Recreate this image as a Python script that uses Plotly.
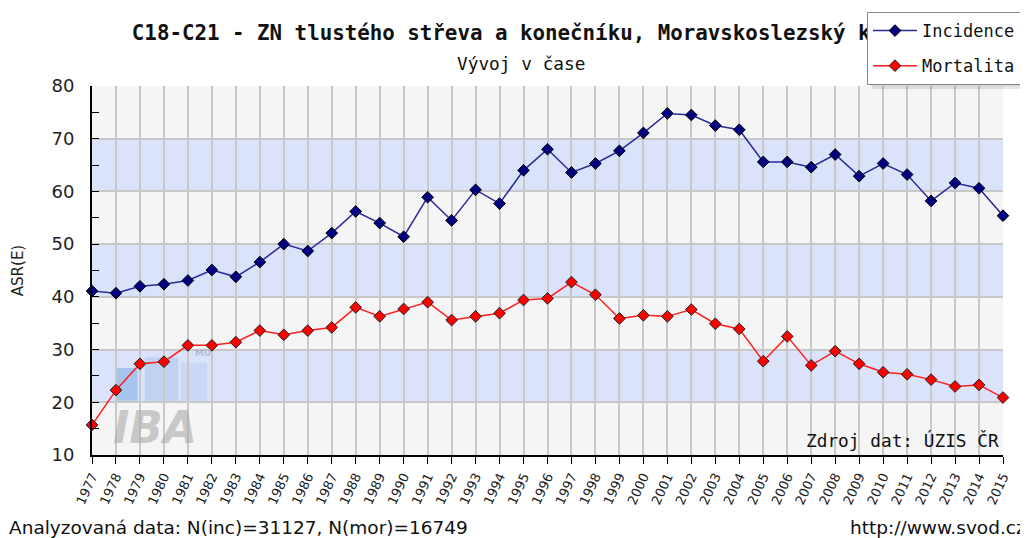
import plotly.graph_objects as go

years = list(range(1977, 2016))
incidence = [41.1, 40.7, 42.0, 42.4, 43.1, 45.1, 43.8, 46.6, 50.0, 48.7,
             52.1, 56.2, 54.0, 51.4, 58.9, 54.5, 60.3, 57.7, 64.0, 68.0,
             63.6, 65.3, 67.7, 71.1, 74.8, 74.5, 72.5, 71.7, 65.6, 65.6,
             64.6, 67.0, 62.9, 65.3, 63.2, 58.2, 61.6, 60.6, 55.4]
mortalita = [15.7, 22.3, 27.3, 27.7, 30.8, 30.8, 31.4, 33.6, 32.8, 33.6,
             34.2, 38.0, 36.3, 37.7, 39.0, 35.6, 36.3, 36.9, 39.4, 39.7,
             42.8, 40.4, 35.9, 36.5, 36.3, 37.6, 34.9, 33.9, 27.8, 32.5,
             27.0, 29.7, 27.3, 25.7, 25.3, 24.3, 23.0, 23.3, 20.9]
y_ticks = [10, 20, 30, 40, 50, 60, 70, 80]
title = "C18-C21 - ZN tlustého střeva a konečníku, Moravskoslezský kraj"
subtitle = "Vývoj v čase"

mono = "DejaVu Sans Mono"
sans = "DejaVu Sans"

# page has an 8px body margin: figure drawn at (8, 8) of the window
OFF = 8
W, H = 1028 - OFF, 538 - OFF
PL, PT, PR, PB = 92, 86, 1003, 455  # plot area in window pixels


def px(sx):
    return (sx - PL) / (PR - PL)


def py(sy):
    return (PB - sy) / (PB - PT)


fig = go.Figure()
fig.add_trace(go.Scatter(
    x=years, y=incidence, name="Incidence", mode="lines+markers",
    legendgroup="inc",
    line=dict(color="#2a2a9a", width=1.5),
    marker=dict(symbol="diamond", size=9, color="#000080",
                line=dict(color="#000000", width=1)),
    cliponaxis=False))
fig.add_trace(go.Scatter(
    x=years, y=mortalita, name="Mortalita", mode="lines+markers",
    legendgroup="mor",
    line=dict(color="#ff2020", width=1.5),
    marker=dict(symbol="diamond", size=9, color="#ff0000",
                line=dict(color="#202020", width=1)),
    cliponaxis=False))

shapes = []
for lo in range(10, 80, 10):
    col = "#dbe3fb" if (lo // 10) % 2 == 0 else "#f5f5f5"
    shapes.append(dict(type="rect", xref="paper", yref="y", x0=0, x1=1,
                       y0=lo, y1=lo + 10, fillcolor=col, line_width=0,
                       layer="below"))
# IBA watermark boxes
for x0, x1, y1, c in [(1978.0, 1978.9, 26.5, "rgba(150,185,235,0.75)"),
                      (1979.2, 1980.6, 28.5, "rgba(170,195,235,0.55)"),
                      (1980.7, 1981.8, 27.5, "rgba(185,205,240,0.5)")]:
    shapes.append(dict(type="rect", xref="x", yref="y", x0=x0, x1=x1,
                       y0=20.3, y1=y1, fillcolor=c,
                       line_width=0, layer="below"))
# legend drop shadow
shapes.append(dict(type="rect", xref="paper", yref="paper",
                   x0=px(872), x1=px(1040), y0=py(89), y1=py(16),
                   fillcolor="rgba(0,0,0,0.10)", line_width=0, layer="above"))
shapes.append(dict(type="rect", xref="paper", yref="paper",
                   x0=px(870), x1=px(1040), y0=py(86), y1=py(14),
                   fillcolor="rgba(0,0,0,0.08)", line_width=0, layer="above"))
# main title (drawn as a shape label so the legend sits on top of it)
shapes.append(dict(type="rect", xref="paper", yref="paper",
                   x0=px(420), x1=px(620), y0=py(42), y1=py(20),
                   fillcolor="rgba(0,0,0,0)", line=dict(width=0),
                   layer="above",
                   label=dict(text="<b>" + title + "</b>",
                              textposition="middle center",
                              font=dict(family=mono, size=20.8, color="#111"))))

fig.update_layout(
    width=W, height=H,
    margin=dict(l=PL - OFF, r=1028 - PR, t=PT - OFF, b=538 - PB,
                autoexpand=False),
    paper_bgcolor="white", plot_bgcolor="#f5f5f5",
    showlegend=True,
    legend=dict(xref="container", yref="container",
                x=(867 - OFF) / W, xanchor="left",
                y=1 - (12 - OFF) / H, yanchor="top",
                bgcolor="white", bordercolor="#888", borderwidth=1,
                font=dict(family=mono, size=17, color="#111"),
                tracegroupgap=10, itemwidth=44, entrywidth=170),
    shapes=shapes,
    xaxis=dict(range=[1977, 2015], tickmode="array", tickvals=years,
               ticktext=[str(y) for y in years], tickangle=-65,
               tickfont=dict(family=sans, size=13, color="#222"),
               showgrid=True, gridcolor="#c8c8c8", gridwidth=2,
               ticks="outside", ticklen=7, tickcolor="black",
               showline=True, linecolor="black", linewidth=2,
               zeroline=False, fixedrange=True, automargin=False),
    yaxis=dict(range=[10, 80], tickmode="array", tickvals=y_ticks,
               tickfont=dict(family=sans, size=18, color="#222"),
               ticklabelstandoff=12,
               title=dict(text="ASR(E)", font=dict(family=sans, size=15, color="#222"),
                          standoff=24),
               showgrid=True, gridcolor="#c8c8c8", gridwidth=2,
               ticks="inside", ticklen=7, tickcolor="black",
               minor=dict(dtick=5, ticks="inside", ticklen=7, tickcolor="black",
                          showgrid=False),
               showline=True, linecolor="black", linewidth=2,
               zeroline=False, fixedrange=True, automargin=False),
    annotations=[
        dict(text=subtitle, xref="paper", yref="paper", x=px(521),
             y=py(64), xanchor="center", yanchor="middle",
             showarrow=False, font=dict(family=mono, size=17.8, color="#111")),
        dict(text="Zdroj dat: ÚZIS ČR", xref="paper", yref="paper",
             x=px(1001), y=py(440), xanchor="right",
             yanchor="middle", showarrow=False,
             font=dict(family=mono, size=17.8, color="#111")),
        dict(text="Analyzovaná data: N(inc)=31127, N(mor)=16749", xref="paper",
             yref="paper", x=px(7), y=py(527),
             xanchor="left", yanchor="middle", showarrow=False,
             font=dict(family=sans, size=18.5, color="#111")),
        dict(text="http://www.svod.cz", xref="paper", yref="paper",
             x=px(1028), y=py(527), xanchor="right",
             yanchor="middle", showarrow=False,
             font=dict(family=sans, size=18.5, color="#111")),
        dict(text="<b><i>IBA</i></b>", xref="x", yref="y", x=1977.8, y=15.3,
             xanchor="left", yanchor="middle", showarrow=False,
             font=dict(family=sans, size=44, color="rgba(170,170,170,0.6)")),
        dict(text="<b>MU</b>", xref="x", yref="y", x=1981.2, y=29.3,
             xanchor="left", yanchor="middle", showarrow=False,
             font=dict(family=sans, size=9, color="rgba(150,160,190,0.6)")),
    ],
)

fig.write_html("out.html")
